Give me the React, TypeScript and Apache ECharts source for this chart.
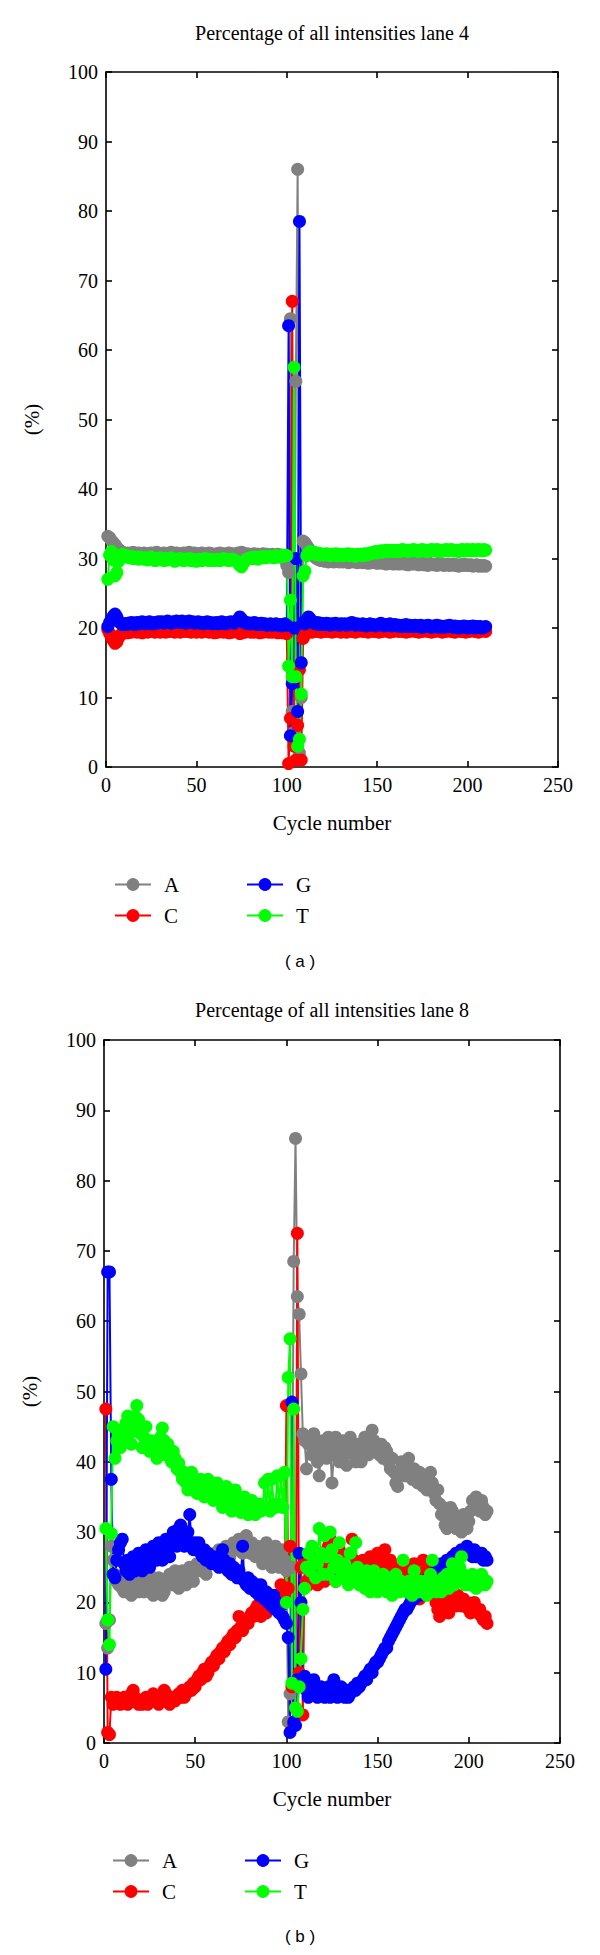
import React, { useEffect, useRef } from "react";
import * as echarts from "echarts";

// ---------- Lane 4 (chart a), cycles 1..210 ----------
const laneFourA = [
33.2,33.0,32.6,32.3,32.0,31.6,31.3,31.1,30.9,30.8,
30.7,30.8,30.6,30.7,30.9,30.7,30.6,30.8,30.7,30.6,
30.8,30.7,30.5,30.7,30.8,30.6,30.7,30.9,30.6,30.7,
30.6,30.8,30.7,30.5,30.7,30.9,30.6,30.7,30.8,30.6,
30.7,30.5,30.8,30.6,30.7,30.9,30.7,30.6,30.8,30.5,
30.7,30.6,30.8,30.7,30.5,30.6,30.8,30.7,30.6,30.5,
30.7,30.6,30.8,30.5,30.6,30.7,30.5,30.8,30.6,30.7,
30.5,30.6,30.8,30.7,30.9,30.6,30.5,30.7,30.6,30.5,
30.6,30.7,30.5,30.6,30.4,30.6,30.7,30.5,30.6,30.4,
30.5,30.6,30.4,30.5,30.6,30.3,30.5,30.2,29.8,29.0,
28.0,64.5,8.0,5.0,55.5,86.0,2.0,10.0,32.5,32.3,
31.9,31.5,31.0,30.6,30.3,30.1,29.9,29.8,29.7,29.8,
29.6,29.7,29.5,29.6,29.8,29.5,29.6,29.7,29.5,29.6,
29.5,29.7,29.6,29.4,29.5,29.6,29.5,29.7,29.4,29.5,
29.6,29.4,29.5,29.6,29.3,29.5,29.4,29.6,29.5,29.3,
29.4,29.5,29.3,29.4,29.2,29.4,29.3,29.5,29.2,29.3,
29.4,29.2,29.3,29.4,29.2,29.3,29.1,29.3,29.2,29.4,
29.2,29.3,29.1,29.2,29.3,29.1,29.2,29.0,29.3,29.2,
29.1,29.2,29.0,29.3,29.1,29.2,29.0,29.1,29.2,29.0,
29.1,29.2,29.0,29.1,28.9,29.1,29.0,29.2,29.0,29.1,
29.0,29.1,28.9,29.0,29.1,28.9,29.0,28.9,29.0,28.9
];
const laneFourC = [
19.8,19.2,18.6,18.2,17.8,18.0,18.6,19.0,19.2,19.3,
19.4,19.3,19.5,19.4,19.6,19.5,19.4,19.6,19.5,19.3,
19.5,19.6,19.4,19.5,19.7,19.5,19.4,19.6,19.5,19.4,
19.6,19.5,19.4,19.6,19.5,19.7,19.5,19.4,19.6,19.5,
19.4,19.6,19.5,19.7,19.5,19.6,19.4,19.5,19.6,19.4,
19.5,19.6,19.4,19.5,19.7,19.5,19.4,19.6,19.5,19.3,
19.5,19.4,19.6,19.5,19.4,19.6,19.5,19.3,19.5,19.4,
19.6,19.5,19.4,19.2,19.3,19.5,19.4,19.6,19.5,19.4,
19.5,19.4,19.6,19.5,19.3,19.5,19.4,19.6,19.5,19.4,
19.5,19.4,19.6,19.5,19.3,19.5,19.4,19.3,19.5,19.2,
0.5,7.0,67.0,3.0,1.0,6.0,14.0,1.0,18.5,19.0,
19.3,19.5,19.6,19.4,19.5,19.7,19.5,19.6,19.4,19.5,
19.6,19.5,19.7,19.5,19.4,19.6,19.5,19.7,19.6,19.4,
19.5,19.6,19.4,19.6,19.7,19.5,19.6,19.4,19.5,19.6,
19.7,19.5,19.6,19.5,19.4,19.6,19.7,19.5,19.6,19.5,
19.4,19.6,19.5,19.7,19.6,19.5,19.4,19.6,19.5,19.7,
19.6,19.5,19.7,19.5,19.6,19.4,19.6,19.5,19.7,19.6,
19.5,19.6,19.4,19.6,19.5,19.7,19.6,19.5,19.6,19.4,
19.6,19.5,19.7,19.6,19.5,19.4,19.6,19.5,19.7,19.6,
19.5,19.6,19.4,19.6,19.7,19.5,19.6,19.5,19.4,19.6,
19.5,19.7,19.6,19.5,19.6,19.4,19.5,19.7,19.6,19.5
];
const laneFourG = [
20.2,20.8,21.3,21.7,22.0,21.6,21.0,20.7,20.5,20.6,
20.5,20.7,20.6,20.8,20.7,20.5,20.8,20.6,20.7,20.9,
20.7,20.6,20.8,20.9,20.7,20.6,20.8,20.7,20.9,20.8,
20.9,20.7,20.8,21.0,20.8,20.7,20.9,20.8,21.0,20.9,
20.8,21.0,20.9,20.7,20.9,21.0,20.8,20.9,20.7,20.8,
20.9,20.7,20.8,20.6,20.8,20.9,20.7,20.8,20.6,20.7,
20.8,20.6,20.7,20.9,20.7,20.6,20.8,20.7,20.9,20.8,
20.7,20.9,21.2,21.6,21.3,20.9,20.7,20.8,20.6,20.7,
20.6,20.8,20.7,20.5,20.6,20.7,20.5,20.6,20.4,20.5,
20.6,20.4,20.5,20.6,20.4,20.5,20.3,20.5,20.6,20.4,
63.5,4.5,12.0,20.0,30.0,8.0,78.5,15.0,20.8,20.6,
21.2,21.6,21.3,20.9,20.7,20.6,20.8,20.5,20.7,20.6,
20.5,20.7,20.6,20.4,20.6,20.5,20.7,20.5,20.4,20.6,
20.5,20.6,20.4,20.5,20.7,20.8,20.5,20.4,20.6,20.5,
20.4,20.6,20.5,20.3,20.5,20.6,20.4,20.5,20.3,20.4,
20.5,20.7,20.4,20.3,20.5,20.4,20.6,20.3,20.4,20.5,
20.3,20.4,20.2,20.4,20.3,20.5,20.2,20.4,20.3,20.2,
20.4,20.3,20.2,20.4,20.1,20.3,20.2,20.4,20.3,20.1,
20.3,20.2,20.4,20.1,20.3,20.2,20.1,20.3,20.2,20.4,
20.2,20.1,20.3,20.2,20.0,20.2,20.1,20.3,20.2,20.0,
20.2,20.1,20.3,20.0,20.2,20.1,20.2,20.0,20.1,20.2
];
const laneFourT = [
27.0,30.5,31.0,29.8,27.5,28.0,29.6,30.4,30.6,30.3,
30.2,30.4,30.1,30.3,30.0,30.2,30.1,29.9,30.2,30.0,
29.9,30.1,29.8,30.0,30.2,29.9,29.7,30.0,29.8,30.1,
29.9,29.7,30.0,29.8,29.9,30.1,29.8,29.6,29.9,29.8,
30.0,29.8,29.7,29.9,29.8,30.0,29.7,29.9,29.8,29.6,
29.8,29.9,29.7,29.8,30.0,29.8,29.7,29.9,29.8,29.7,
29.9,29.8,29.7,29.9,30.0,29.8,29.9,29.7,29.8,29.9,
29.8,29.6,29.4,29.0,28.8,29.3,29.7,29.9,30.0,30.1,
30.0,30.2,30.1,29.9,30.2,30.1,30.3,30.1,30.2,30.3,
30.2,30.3,30.1,30.4,30.3,30.2,30.4,30.3,30.5,30.4,
14.5,24.0,13.0,57.5,13.0,3.0,4.0,10.5,27.5,28.2,
30.4,30.8,31.0,30.7,30.9,30.6,30.8,30.5,30.7,30.6,
30.5,30.7,30.6,30.4,30.6,30.5,30.7,30.4,30.6,30.5,
30.4,30.6,30.5,30.7,30.4,30.6,30.5,30.3,30.6,30.5,
30.6,30.4,30.7,30.5,30.6,30.8,30.7,30.9,31.0,30.8,
31.0,31.1,30.9,31.1,31.2,31.0,31.1,31.2,31.0,31.1,
31.2,31.0,31.1,31.3,31.1,31.2,31.0,31.2,31.1,31.3,
31.1,31.2,31.0,31.2,31.3,31.1,31.2,31.0,31.1,31.3,
31.2,31.1,31.3,31.2,31.0,31.2,31.1,31.3,31.2,31.1,
31.3,31.2,31.1,31.2,31.0,31.2,31.3,31.1,31.2,31.3,
31.1,31.2,31.3,31.1,31.2,31.3,31.2,31.1,31.3,31.2
];

// ---------- Lane 8 (chart b), cycles 1..210 ----------
const laneEightA = [
17.0,13.5,17.5,28.0,26.0,24.0,23.0,22.5,23.5,22.0,
21.5,22.5,23.0,22.0,21.0,22.0,23.5,22.5,21.5,22.0,
23.0,21.5,22.0,23.0,24.0,22.5,21.0,21.5,22.5,23.5,
22.0,21.0,21.5,22.5,23.0,24.0,22.5,23.5,24.5,23.0,
22.0,23.5,24.5,23.5,22.5,24.0,25.0,24.0,23.0,24.5,
25.5,24.5,25.0,26.0,25.0,24.0,25.5,26.5,25.5,26.0,
27.0,26.0,27.5,26.5,25.5,27.0,28.0,27.0,26.5,27.5,
28.5,27.5,28.0,29.0,28.0,27.0,28.5,29.5,28.0,27.0,
28.5,27.5,26.5,28.0,27.5,26.5,25.5,27.0,28.5,27.0,
26.0,25.0,27.0,28.0,26.5,25.0,26.0,27.5,26.0,24.5,
3.0,7.0,25.0,68.5,86.0,63.5,61.0,52.5,44.0,43.0,
39.0,42.5,43.5,41.0,44.0,42.5,40.0,38.0,41.5,43.0,
42.0,40.5,43.5,42.0,37.0,41.0,43.5,42.0,40.0,41.5,
43.0,41.0,39.5,42.0,43.5,42.5,41.0,40.0,42.5,41.5,
40.0,42.5,43.5,42.0,41.0,43.0,44.5,43.0,41.5,42.5,
41.0,42.5,40.5,42.0,41.5,40.0,39.0,40.5,38.5,37.0,
36.5,38.5,40.0,39.5,38.0,39.5,40.5,38.5,37.5,39.0,
38.0,37.0,38.5,37.5,36.5,37.5,36.0,37.5,38.5,37.0,
35.5,34.5,36.0,34.0,32.5,33.5,31.0,30.5,32.0,33.5,
33.0,31.5,30.5,32.0,31.0,30.0,32.5,31.5,30.5,31.5,
33.0,34.5,33.5,35.0,34.0,33.0,34.5,33.5,32.5,33.0
];
const laneEightC = [
47.5,1.5,1.2,6.5,5.5,6.0,6.5,6.0,5.5,6.0,
6.5,6.0,5.5,6.0,7.0,7.5,6.5,6.0,5.5,6.0,
5.5,6.0,6.5,5.5,6.0,6.5,7.0,6.5,6.0,5.5,
6.0,6.5,7.5,7.0,6.0,5.5,6.0,6.5,6.0,6.5,
7.0,6.5,7.5,6.5,7.0,7.5,8.0,7.5,8.5,8.0,
9.0,9.5,9.0,10.0,10.5,9.5,10.0,11.0,11.5,11.0,
12.0,12.5,12.0,13.0,13.5,13.0,14.0,14.5,14.0,15.0,
15.5,15.0,16.0,18.0,16.5,16.0,17.0,17.5,17.0,18.0,
18.5,18.0,19.0,19.5,18.5,18.0,19.5,19.0,18.5,19.0,
19.5,20.0,19.5,20.5,21.0,20.5,22.5,21.5,21.0,48.0,
22.0,28.0,8.0,2.5,5.0,72.5,10.0,25.0,4.0,26.0,
23.0,22.5,25.0,24.0,26.5,23.5,22.5,25.5,27.0,24.0,
23.0,25.5,28.0,29.0,26.5,24.5,23.0,25.0,27.5,24.0,
23.5,25.0,26.5,24.0,23.0,29.0,26.0,24.5,25.5,23.5,
24.5,26.0,25.0,23.5,24.0,26.5,25.5,24.0,25.5,27.0,
26.5,25.0,23.5,27.5,25.0,24.0,26.0,24.5,23.0,25.0,
24.0,23.5,25.5,24.5,22.5,24.0,23.0,25.0,24.5,25.5,
24.0,22.0,20.5,21.0,26.0,24.5,23.5,25.5,24.0,22.5,
21.0,20.0,19.0,18.0,19.5,21.0,20.5,19.0,18.5,20.0,
21.5,20.0,19.5,21.0,20.0,19.5,20.5,19.5,20.0,19.0,
18.5,19.5,20.0,19.0,18.5,19.0,18.0,17.5,18.0,17.0
];
const laneEightG = [
10.5,67.0,67.0,37.5,24.0,23.5,26.0,27.5,28.5,29.0,
25.5,24.5,26.0,24.0,25.0,26.5,24.5,25.5,27.0,26.0,
24.5,25.5,27.5,26.0,25.0,26.5,28.0,27.0,26.0,28.5,
27.5,26.0,28.0,29.0,27.5,26.5,28.5,30.0,29.5,28.0,
30.5,31.0,29.5,28.0,29.5,30.0,32.5,28.5,27.5,28.5,
27.5,28.5,27.0,26.5,27.5,26.0,27.0,26.5,25.5,26.5,
25.5,26.0,25.0,26.5,27.5,26.0,25.0,24.5,25.5,24.0,
25.0,24.0,23.5,24.5,23.5,28.0,23.0,22.5,23.5,22.0,
23.0,22.5,21.5,22.5,21.0,22.5,21.5,20.5,21.5,20.0,
20.5,19.5,21.0,19.0,20.0,18.5,19.5,18.0,17.5,17.0,
15.0,1.5,48.5,3.0,2.5,9.0,27.0,20.0,8.0,9.5,
7.5,6.5,8.0,7.0,9.0,7.5,6.5,7.0,8.0,7.5,
6.5,7.0,8.0,6.5,7.5,9.0,7.0,6.5,7.5,8.0,
7.0,6.5,7.5,6.5,7.0,7.5,8.0,7.5,8.5,8.0,
8.5,9.0,9.5,9.0,10.0,10.5,10.0,11.0,11.5,11.5,
12.0,12.5,13.0,13.5,13.5,14.5,15.0,15.5,16.0,16.5,
17.0,17.5,18.0,18.5,19.0,19.0,19.5,20.0,20.5,20.5,
21.0,21.5,21.0,22.0,22.5,22.0,23.0,23.5,23.0,24.0,
24.0,24.5,24.0,25.0,25.5,25.0,25.5,26.0,25.5,26.0,
26.5,26.0,27.0,26.5,27.0,27.5,27.0,27.5,28.0,27.5,
27.0,26.5,27.5,26.5,27.0,26.5,27.0,26.0,26.5,26.0
];
const laneEightT = [
30.5,17.5,14.0,29.8,45.0,40.5,43.0,44.5,42.0,43.0,
44.0,45.5,46.5,44.0,42.5,45.0,46.5,48.0,46.0,44.0,
42.0,43.5,45.0,42.5,41.5,43.0,42.0,41.5,40.5,42.0,
43.5,44.8,43.0,41.0,42.5,41.0,40.0,41.5,40.5,39.0,
39.8,38.5,37.5,38.5,37.0,36.0,37.5,38.5,37.0,36.5,
35.5,36.8,37.5,36.0,35.0,36.5,37.5,36.2,35.0,34.5,
36.0,37.0,36.0,34.5,33.5,35.0,36.5,35.5,34.0,33.0,
34.5,36.0,35.0,33.5,32.8,34.0,35.0,33.5,32.5,33.0,
34.5,33.5,32.5,33.5,34.0,33.0,33.5,37.0,33.5,37.5,
33.0,37.5,34.0,33.5,38.0,34.0,38.0,33.5,38.5,20.0,
52.0,57.5,8.5,47.5,5.0,4.5,8.0,12.0,19.0,22.0,
25.0,27.0,24.5,28.0,26.0,23.5,25.5,30.5,27.0,24.0,
29.5,26.5,24.0,30.0,27.5,25.0,23.0,26.0,28.5,24.5,
23.5,25.5,24.0,22.5,27.0,24.5,23.0,28.5,25.0,22.5,
24.0,23.0,22.0,24.5,23.5,21.5,23.0,24.5,22.5,21.5,
23.0,22.0,24.0,22.5,21.5,23.5,22.0,21.0,22.5,24.0,
22.0,21.5,23.0,26.0,22.5,21.5,23.0,22.0,21.0,24.5,
22.5,21.5,23.0,22.0,21.5,23.0,21.0,22.5,24.0,26.0,
22.5,21.5,23.0,22.0,21.5,23.5,22.5,24.0,22.0,23.5,
25.5,22.5,24.0,23.0,25.0,26.5,24.0,22.5,23.5,23.0,
22.5,24.0,23.5,22.0,23.0,22.5,24.0,23.0,22.5,23.0
];

const baseNames = ["A", "C", "G", "T"];
const baseColors = ["#808080", "#ff0000", "#0000ff", "#00ff00"];
const xTicks = { min: 0, max: 250, interval: 50 };
const yTicks = { min: 0, max: 100, interval: 10 };
const chartTitles = [
  "Percentage of all intensities lane 4",
  "Percentage of all intensities lane 8",
];
const panelLabels = ["( a )", "( b )"];

const SERIF = '"Liberation Serif", "Times New Roman", serif';
const SANS = '"Liberation Sans", Arial, sans-serif';

const toPairs = (vals: number[]) => vals.map((v, i) => [i + 1, v]);

export default function App() {
  const ref = useRef<HTMLDivElement>(null);

  useEffect(() => {
    document.body.style.margin = "0";
    const chart = echarts.init(ref.current!, null, { renderer: "svg" });

    const grids = [
      { left: 106, top: 72, width: 452, height: 695 },
      { left: 104, top: 1040, width: 456, height: 703 },
    ];

    const axisLine = { show: true, onZero: false, lineStyle: { color: "#000", width: 1.6 } };
    const axisTick = { show: true, inside: true, length: 6, lineStyle: { color: "#000", width: 1.6 } };

    const xAxes: any[] = [];
    const yAxes: any[] = [];
    grids.forEach((_, gi) => {
      xAxes.push({
        gridIndex: gi, type: "value", position: "bottom", ...xTicks,
        axisLine, axisTick,
        axisLabel: { color: "#000", fontFamily: SERIF, fontSize: 20, margin: 8 },
        splitLine: { show: false },
        name: "Cycle number", nameLocation: "middle", nameGap: 45,
        nameTextStyle: { color: "#000", fontFamily: SERIF, fontSize: 21 },
      });
      xAxes.push({
        gridIndex: gi, type: "value", position: "top", ...xTicks,
        axisLine, axisTick, axisLabel: { show: false }, splitLine: { show: false },
      });
      yAxes.push({
        gridIndex: gi, type: "value", position: "left", ...yTicks,
        axisLine, axisTick,
        axisLabel: { color: "#000", fontFamily: SERIF, fontSize: 20, margin: 8 },
        splitLine: { show: false },
        name: "(%)", nameLocation: "middle", nameGap: 64, nameRotate: 90,
        nameTextStyle: { color: "#000", fontFamily: SERIF, fontSize: 21 },
      });
      yAxes.push({
        gridIndex: gi, type: "value", position: "right", ...yTicks,
        axisLine, axisTick, axisLabel: { show: false }, splitLine: { show: false },
      });
    });

    const lanes = [
      [laneFourA, laneFourC, laneFourG, laneFourT],
      [laneEightA, laneEightC, laneEightG, laneEightT],
    ];
    const series: any[] = [];
    lanes.forEach((lane, gi) => {
      lane.forEach((vals, si) => {
        series.push({
          type: "line", name: baseNames[si],
          xAxisIndex: gi * 2, yAxisIndex: gi * 2,
          data: toPairs(vals),
          symbol: "circle", symbolSize: 13, showSymbol: true,
          itemStyle: { color: baseColors[si] },
          lineStyle: { color: baseColors[si], width: 2 },
          emphasis: { disabled: true },
        });
      });
    });

    const legendBase = {
      orient: "vertical", itemWidth: 36, itemHeight: 16, itemGap: 10,
      selectedMode: false,
      textStyle: { color: "#000", fontFamily: SERIF, fontSize: 21, lineHeight: 21, padding: [0, 0, 0, 8] },
    };
    const legendTops = [869, 1845];
    const legends: any[] = [];
    legendTops.forEach((t, gi) => {
      const l = grids[gi].left + 3;
      legends.push({ ...legendBase, left: l, top: t, data: ["A", "C"] });
      legends.push({ ...legendBase, left: l + 132, top: t, data: ["G", "T"] });
    });

    const graphics: any[] = [];
    const titleY = [33, 1010];
    const labelY = [961, 1936];
    grids.forEach((g, gi) => {
      graphics.push({
        type: "text", x: g.left + g.width / 2, y: titleY[gi],
        style: {
          text: chartTitles[gi], font: `20px ${SERIF}`, fill: "#000",
          align: "center", verticalAlign: "middle", textAlign: "center", textVerticalAlign: "middle",
        },
      });
      graphics.push({
        type: "text", x: 300, y: labelY[gi],
        style: {
          text: panelLabels[gi], font: `17px ${SANS}`, fill: "#000",
          align: "center", verticalAlign: "middle", textAlign: "center", textVerticalAlign: "middle",
        },
      });
    });

    chart.setOption({
      animation: false,
      backgroundColor: "#fff",
      grid: grids,
      xAxis: xAxes,
      yAxis: yAxes,
      series,
      legend: legends,
      graphic: graphics,
    });
    return () => chart.dispose();
  }, []);

  return <div ref={ref} style={{ position: "absolute", left: 0, top: 0, width: 600, height: 1955 }} />;
}
